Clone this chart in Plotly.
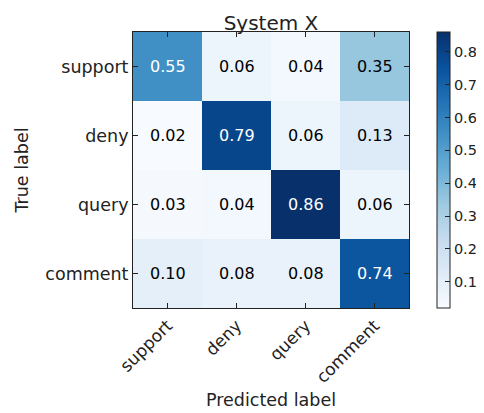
import plotly.graph_objects as go

labels = ["support", "deny", "query", "comment"]
z_values = [
    [0.55, 0.06, 0.04, 0.35],
    [0.02, 0.79, 0.06, 0.13],
    [0.03, 0.04, 0.86, 0.06],
    [0.10, 0.08, 0.08, 0.74],
]
cbar_ticks = [0.1, 0.2, 0.3, 0.4, 0.5, 0.6, 0.7, 0.8]

zmax = max(max(r) for r in z_values)
zmin = min(min(r) for r in z_values)
thresh = zmax / 2

fig = go.Figure(go.Heatmap(
    z=z_values, x=labels, y=labels,
    colorscale="Blues", zmin=zmin, zmax=zmax,
    xgap=0, ygap=0,
    colorbar=dict(
        x=1.1, xanchor="left", xref="paper", xpad=0, ypad=0,
        y=0.5, yanchor="middle", len=1.0, lenmode="fraction",
        thickness=13, outlinewidth=1, outlinecolor="#222",
        tickvals=cbar_ticks, ticks="inside", ticklen=5, tickcolor="#222",
        tickfont=dict(size=14.5, color="#222"),
    ),
))

annotations = []
for i, row in enumerate(z_values):
    for j, v in enumerate(row):
        annotations.append(dict(
            x=labels[j], y=labels[i], text=f"{v:.2f}", showarrow=False,
            font=dict(size=16, color="white" if v > thresh else "black"),
        ))

fig.update_layout(
    width=476, height=405,
    margin=dict(l=125, r=75, t=24, b=105, autoexpand=False),
    paper_bgcolor="white", plot_bgcolor="white",
    font=dict(family="DejaVu Sans", color="#222"),
    title=dict(text="System X", x=0.5, xref="paper", xanchor="center",
               y=1, yref="paper", yanchor="bottom", pad=dict(b=2),
               font=dict(size=20, color="#222")),
    annotations=annotations,
    xaxis=dict(title=dict(text="Predicted label", font=dict(size=17.5), standoff=7),
               tickangle=-45, tickfont=dict(size=17), ticks="inside", ticklen=5,
               tickcolor="#222", showline=True, mirror="ticks", linecolor="#222",
               linewidth=1, showgrid=False, zeroline=False, automargin=False),
    yaxis=dict(title=dict(text="True label", font=dict(size=17.5), standoff=12),
               autorange="reversed", tickfont=dict(size=17.5), ticks="inside",
               ticklen=5, tickcolor="#222", showline=True, mirror="ticks",
               linecolor="#222", linewidth=1, showgrid=False, zeroline=False,
               automargin=False),
)

fig.write_html("out.html")
